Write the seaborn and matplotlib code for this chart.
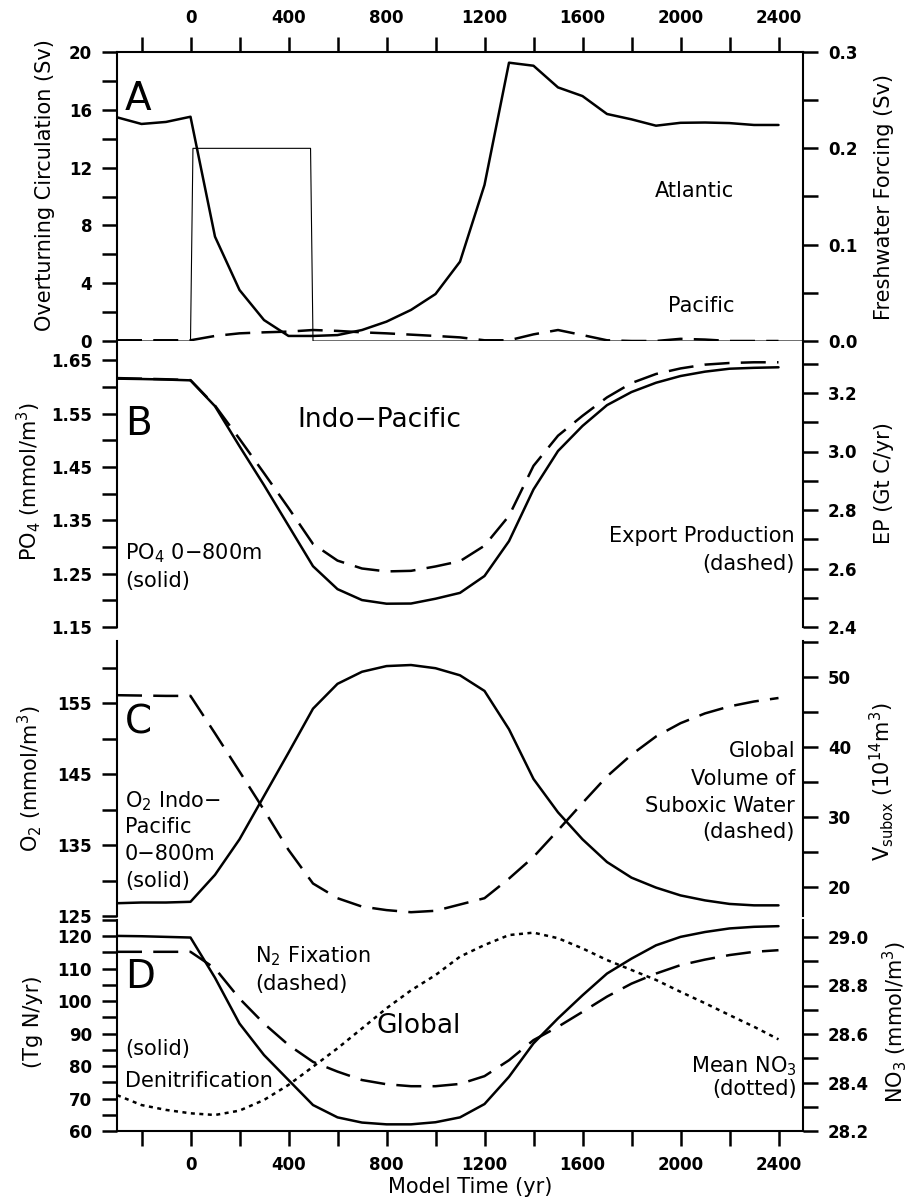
import matplotlib
matplotlib.use("Agg")
import matplotlib.pyplot as plt
import seaborn as sns
import numpy as np
import pandas as pd

# ---------------- data ----------------
years = list(range(-300, 2401, 100))

atlantic_sv = [15.48, 15.02, 15.16, 15.52, 7.22, 3.53, 1.45, 0.35, 0.35, 0.41,
               0.76, 1.34, 2.15, 3.25, 5.49, 10.8, 19.26, 19.05, 17.55, 16.95,
               15.71, 15.34, 14.9, 15.1, 15.12, 15.08, 14.95, 14.95]
pacific_sv = [0.05, 0.05, 0.05, 0.05, 0.35, 0.53, 0.6, 0.65, 0.76, 0.7,
              0.6, 0.53, 0.44, 0.35, 0.25, 0.05, 0.05, 0.46, 0.76, 0.41,
              0.05, 0.0, 0.0, 0.15, 0.1, 0.0, 0.0, 0.0]
forcing_years = [-300, 0, 10, 490, 500, 2500]
forcing_sv = [0.0, 0.0, 0.2, 0.2, 0.0, 0.0]

po4 = [1.6157, 1.615, 1.614, 1.6125, 1.564, 1.489, 1.416, 1.340, 1.264, 1.221,
       1.2005, 1.1937, 1.194, 1.203, 1.214, 1.2456, 1.311, 1.408, 1.48, 1.527,
       1.566, 1.5906, 1.608, 1.6206, 1.6288, 1.6343, 1.636, 1.637]
export_prod = [3.251, 3.249, 3.247, 3.244, 3.157, 3.043, 2.926, 2.807, 2.684, 2.627,
               2.60, 2.590, 2.592, 2.607, 2.625, 2.678, 2.78, 2.951, 3.054, 3.122,
               3.185, 3.234, 3.265, 3.284, 3.297, 3.3026, 3.305, 3.305]

o2 = [126.8, 126.9, 126.9, 127.0, 130.8, 135.8, 141.9, 148.0, 154.2, 157.7,
      159.4, 160.2, 160.35, 159.9, 158.9, 156.7, 151.3, 144.3, 139.6, 135.8,
      132.6, 130.4, 129.0, 127.9, 127.2, 126.7, 126.5, 126.5]
v_subox = [47.4, 47.35, 47.3, 47.3, 41.95, 36.5, 31.0, 25.3, 20.5, 18.4,
           17.2, 16.7, 16.4, 16.6, 17.5, 18.4, 21.2, 24.3, 28.1, 32.0,
           35.8, 38.9, 41.5, 43.4, 44.8, 45.8, 46.5, 47.0]

denitrification = [120.1, 120.0, 119.8, 119.6, 107.2, 93.1, 83.4, 75.7, 68.0, 64.2,
                   62.6, 62.05, 62.05, 62.7, 64.2, 68.3, 76.7, 87.0, 94.7, 101.8,
                   108.5, 113.1, 117.2, 119.8, 121.3, 122.4, 122.9, 123.1]
n2_fixation = [115.2, 115.2, 115.2, 115.2, 110.1, 100.8, 93.1, 86.5, 81.3, 78.3,
               75.7, 74.4, 73.8, 73.8, 74.5, 76.9, 81.8, 88.0, 92.1, 96.7,
               101.4, 105.4, 108.5, 111.1, 112.8, 114.2, 115.2, 115.7]
mean_no3 = [28.348, 28.307, 28.287, 28.273, 28.266, 28.284, 28.328, 28.39, 28.465, 28.541,
            28.623, 28.706, 28.78, 28.843, 28.919, 28.967, 29.008, 29.018, 28.995, 28.953,
            28.905, 28.864, 28.823, 28.774, 28.727, 28.678, 28.63, 28.578]

x_ticks = list(range(-200, 2401, 200))
x_labels = [str(v) if v % 400 == 0 and v >= 0 else "" for v in x_ticks]

# ---------------- style ----------------
sns.set_style("ticks")
plt.rcParams["font.family"] = ["DejaVu Sans"]
plt.rcParams["mathtext.fontset"] = "dejavusans"
for k in ["text.color", "axes.labelcolor", "xtick.color", "ytick.color",
          "axes.edgecolor", "xtick.labelcolor", "ytick.labelcolor"]:
    plt.rcParams[k] = "black"

W, H = 907, 1200
fig = plt.figure(figsize=(W / 100, H / 100), dpi=100)
L, R = 117, 803


def box(top, bottom):
    return [L / W, 1 - bottom / H, (R - L) / W, (bottom - top) / H]


LW = 1.8
DASH = (0, (10, 4.5))
DOT = (0, (1.6, 1.8))
TICKFS = 12


def style_pair(ax, tw, top=False, bottom=False):
    ax.set_xlim(-300, 2500)
    ax.spines["right"].set_visible(False)
    ax.spines["top"].set_visible(top)
    ax.spines["bottom"].set_visible(bottom)
    for s in ["left", "top", "bottom"]:
        tw.spines[s].set_visible(False)
    for a in (ax, tw):
        for s in a.spines.values():
            s.set_linewidth(1.5)
            s.set_color("black")
        a.tick_params(axis="y", direction="out", length=11, width=1.8,
                      pad=7, labelsize=TICKFS, colors="black")
        for lab in a.get_yticklabels():
            lab.set_fontweight("bold")
    ax.tick_params(axis="x", direction="out", length=11, width=1.8, pad=7,
                   labelsize=TICKFS, top=top, labeltop=top, colors="black",
                   bottom=bottom, labelbottom=bottom)
    ax.set_xticks(x_ticks, labels=x_labels)
    for lab in ax.get_xticklabels():
        lab.set_fontweight("bold")
    ax.set_xlabel("")
    ax.set_ylabel("")
    tw.set_ylabel("")


def yt(ax, ticks, labeled, fmt):
    labs = [fmt.format(t) if any(abs(t - l) < 1e-9 for l in labeled) else "" for t in ticks]
    ax.set_yticks(ticks, labels=labs)


# ---------------- Panel A ----------------
axA = fig.add_axes(box(52, 341))
axA2 = axA.twinx()
sns.lineplot(x=years, y=atlantic_sv, ax=axA, color="black", lw=LW)
sns.lineplot(x=years, y=pacific_sv, ax=axA, color="black", lw=LW, linestyle=DASH)
sns.lineplot(x=forcing_years, y=forcing_sv, ax=axA2, color="black", lw=0.8)
axA.set_ylim(0, 20)
axA2.set_ylim(0, 0.3)
yt(axA, list(range(0, 21, 2)), list(range(0, 21, 4)), "{:.0f}")
yt(axA2, list(np.round(np.arange(0, 0.301, 0.05), 2)), [0.0, 0.1, 0.2, 0.3], "{:.1f}")
style_pair(axA, axA2, top=True)

# ---------------- Panel B ----------------
axB = fig.add_axes(box(341, 627))
axB2 = axB.twinx()
sns.lineplot(x=years, y=po4, ax=axB, color="black", lw=LW)
sns.lineplot(x=years, y=export_prod, ax=axB2, color="black", lw=LW, linestyle=DASH)
axB.set_ylim(1.15, 1.15 + 286 / 533.3)
axB2.set_ylim(2.4, 2.4 + 286 / 292.5)
yt(axB, list(np.round(np.arange(1.15, 1.651, 0.05), 2)),
   [1.15, 1.25, 1.35, 1.45, 1.55, 1.65], "{:.2f}")
yt(axB2, list(np.round(np.arange(2.4, 3.31, 0.1), 1)), [2.4, 2.6, 2.8, 3.0, 3.2], "{:.1f}")
style_pair(axB, axB2)

# ---------------- Panel C ----------------
axC = fig.add_axes(box(641, 916))
axC2 = axC.twinx()
sns.lineplot(x=years, y=o2, ax=axC, color="black", lw=LW)
sns.lineplot(x=years, y=v_subox, ax=axC2, color="black", lw=LW, linestyle=DASH)
axC.set_ylim(125, 125 + 275 / 7.1)
axC2.set_ylim(20 - 29 / 7.0, 20 + 246 / 7.0)
yt(axC, list(range(125, 161, 5)), [125, 135, 145, 155], "{:.0f}")
yt(axC2, list(range(20, 56, 5)), [20, 30, 40, 50], "{:.0f}")
style_pair(axC, axC2)

# ---------------- Panel D ----------------
axD = fig.add_axes(box(920, 1131))
axD2 = axD.twinx()
sns.lineplot(x=years, y=denitrification, ax=axD, color="black", lw=LW)
sns.lineplot(x=years, y=n2_fixation, ax=axD, color="black", lw=LW, linestyle=DASH)
sns.lineplot(x=years, y=mean_no3, ax=axD2, color="black", lw=LW, linestyle=DOT)
axD.set_ylim(60, 125)
axD2.set_ylim(28.2, 28.2 + 211 / 242.5)
yt(axD, list(range(60, 126, 5)), list(range(60, 121, 10)), "{:.0f}")
yt(axD2, list(np.round(np.arange(28.2, 29.01, 0.1), 1)),
   [28.2, 28.4, 28.6, 28.8, 29.0], "{:.1f}")
style_pair(axD, axD2, bottom=True)

# ---------------- texts ----------------
def put(x, y, s, size, ha="left", **kw):
    fig.text(x / W, 1 - y / H, s, fontsize=size, ha=ha, va="baseline",
             color="black", **kw)


def vlab(x, y, s, size=15):
    fig.text(x / W, 1 - y / H, s, fontsize=size, ha="center", va="center",
             rotation=90, color="black")


# panel letters
put(125, 110, "A", 28)
put(125, 435, "B", 28)
put(125, 733, "C", 28)
put(125, 988, "D", 28)

# Panel A
put(734, 197, "Atlantic", 15, ha="right")
put(734, 312, "Pacific", 15, ha="right")
# Panel B
put(297, 427, "Indo\u2212Pacific", 19)
put(125, 559, "PO$_4$ 0\u2212800m", 15)
put(125, 587, "(solid)", 15)
put(795, 542, "Export Production", 15, ha="right")
put(795, 570, "(dashed)", 15, ha="right")
# Panel C
put(125, 807, "O$_2$ Indo\u2212", 15)
put(125, 833, "Pacific", 15)
put(125, 860, "0\u2212800m", 15)
put(125, 887, "(solid)", 15)
put(795, 757, "Global", 15, ha="right")
put(795, 785, "Volume of", 15, ha="right")
put(795, 812, "Suboxic Water", 15, ha="right")
put(795, 838, "(dashed)", 15, ha="right")
# Panel D
put(255, 962, "N$_2$ Fixation", 15)
put(255, 990, "(dashed)", 15)
put(377, 1033, "Global", 19)
put(125, 1055, "(solid)", 15)
put(125, 1087, "Denitrification", 15)
put(797, 1072, "Mean NO$_3$", 15, ha="right")
put(797, 1095, "(dotted)", 15, ha="right")

# axis labels
vlab(45, 185, "Overturning Circulation (Sv)")
vlab(29, 482, "PO$_4$ (mmol/m$^3$)")
vlab(30, 779, "O$_2$ (mmol/m$^3$)")
vlab(33, 1022, "(Tg N/yr)")
vlab(884, 197, "Freshwater Forcing (Sv)")
vlab(884, 483, "EP (Gt C/yr)")
vlab(882, 782, "V$_{\\rm subox}$ (10$^{14}$m$^3$)")
vlab(895, 1022, "NO$_3$ (mmol/m$^3$)")
fig.text(470 / W, 1 - 1187 / H, "Model Time (yr)", fontsize=15, ha="center",
         va="center", color="black")

fig.savefig("out.png", dpi=100)
